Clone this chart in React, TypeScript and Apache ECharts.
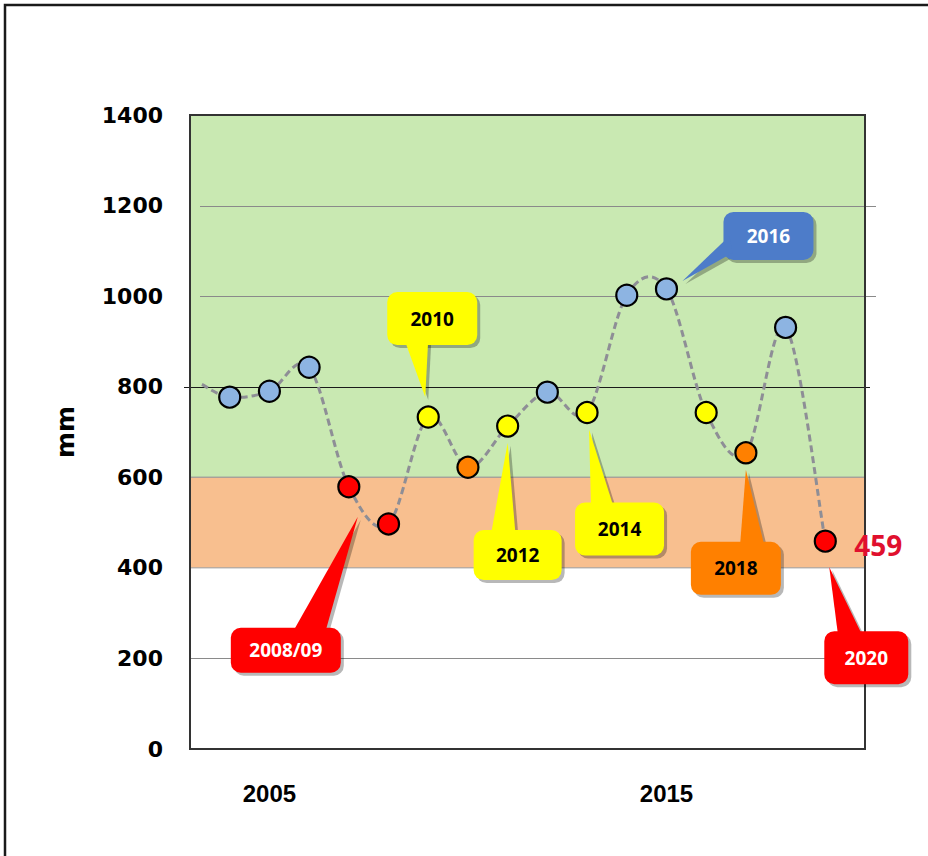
import React, { useEffect, useRef } from "react";
import * as echarts from "echarts";

// ---------- data ----------
const years = [2004, 2005, 2006, 2007, 2008, 2009, 2010, 2011, 2012, 2013, 2014, 2015, 2016, 2017, 2018, 2019];
const rainfall = [777, 790, 843, 579, 497, 733, 622, 713, 788, 743, 1002, 1016, 743, 654, 931, 459];
const pointClass = ["wet", "wet", "wet", "dry", "dry", "mid", "low", "mid", "wet", "mid", "wet", "wet", "mid", "low", "wet", "dry"];
const leadIn = [2003.3, 805];
const xLabelYears = [2005, 2015];
const bands = [
  [600, 1400],
  [400, 600],
];
const refLevels = [200, 800, 1000, 1200];
const callouts = [
  { index: 3, label: "2008/09", kind: "dry" },
  { index: 5, label: "2010", kind: "mid" },
  { index: 7, label: "2012", kind: "mid" },
  { index: 9, label: "2014", kind: "mid" },
  { index: 11, label: "2016", kind: "wet" },
  { index: 13, label: "2018", kind: "low" },
  { index: 15, label: "2020", kind: "dry" },
];
const lastValueLabel = "459";

// ---------- styles ----------
const X_MIN = 2003;
const X_MAX = 2020;
const markerColors: Record<string, string> = {
  wet: "#8DB4E2",
  mid: "#FFFF00",
  low: "#FF8000",
  dry: "#FF0000",
};
const calloutColors: Record<string, { fill: string; text: string }> = {
  wet: { fill: "#4D7CC9", text: "#FFFFFF" },
  mid: { fill: "#FFFF00", text: "#000000" },
  low: { fill: "#FF8000", text: "#000000" },
  dry: { fill: "#FF0000", text: "#FFFFFF" },
};
const bandColors = ["#C9E9B2", "#F8BF8F"];
// pixel offsets of each callout relative to its marker
const calloutLayout = [
  { box: [-118, 141, 110, 45], tip: [9, 30], base: [[-57, 147], [-24, 147]] },
  { box: [-41, -125, 90, 53], tip: [-3, -20], base: [[-24, -78], [0, -78]] },
  { box: [-34, 104, 88, 50], tip: [0, 17], base: [[-17, 110], [8, 110]] },
  { box: [-12, 90, 89, 53], tip: [2, 17], base: [[4, 96], [27, 96]] },
  { box: [57, -77, 90, 48], tip: [16, -8], base: [[63, -53], [66, -36]] },
  { box: [-55, 89, 90, 53], tip: [0, 17], base: [[-6, 95], [19, 95]] },
  { box: [-1, 90, 84, 53], tip: [4, 26], base: [[13, 96], [38, 96]] },
];
const refLineStyle: Record<number, { color: string; width: number; ext: [number, number] }> = {
  200: { color: "#8A8A8A", width: 1, ext: [0, 0] },
  800: { color: "#1A1A1A", width: 1.2, ext: [-6, 5] },
  1000: { color: "#8A8A8A", width: 1, ext: [10, 11] },
  1200: { color: "#8A8A8A", width: 1, ext: [10, 11] },
};

export default function App() {
  const ref = useRef<HTMLDivElement>(null);

  useEffect(() => {
    if (!ref.current) return;
    const chart = echarts.init(ref.current, null, { renderer: "svg" });

    const points = years.map((y, i) => [y, rainfall[i]]);
    const linePoints = [leadIn, ...points];

    const option: any = {
      animation: false,
      backgroundColor: "#FFFFFF",
      grid: { left: 190, top: 115, right: 63, bottom: 107, containLabel: false },
      graphic: [
        {
          type: "rect",
          shape: { x: 5, y: 5, width: 1000, height: 1000 },
          style: { fill: "none", stroke: "#1A1A1A", lineWidth: 2.5 },
          silent: true,
        },
      ],
      xAxis: {
        type: "value",
        min: X_MIN,
        max: X_MAX,
        interval: 1,
        axisLine: { show: false },
        axisTick: { show: false },
        splitLine: { show: false },
        axisLabel: {
          margin: 32,
          fontSize: 24,
          fontWeight: "bold",
          fontFamily: "'Liberation Sans Narrow', 'Liberation Sans', sans-serif",
          color: "#000",
          formatter: (v: number) => (xLabelYears.includes(v) ? String(v) : ""),
        },
      },
      yAxis: {
        type: "value",
        min: 0,
        max: 1400,
        interval: 200,
        name: "mm",
        nameLocation: "middle",
        nameGap: 112,
        nameRotate: 90,
        nameTextStyle: { fontSize: 25, fontWeight: "bold", fontFamily: "'DejaVu Sans', sans-serif", color: "#000" },
        axisLine: { show: false },
        axisTick: { show: false },
        splitLine: { show: false },
        axisLabel: {
          margin: 27,
          fontSize: 22,
          fontWeight: "bold",
          fontFamily: "'DejaVu Sans', sans-serif",
          color: "#000",
          formatter: (v: number) => String(v),
        },
      },
      series: [
        {
          type: "custom",
          name: "frame",
          z: 1,
          clip: false,
          silent: true,
          data: [[X_MIN, 0]],
          renderItem: (params: any, api: any) => {
            const cs = params.coordSys;
            const left = cs.x;
            const right = cs.x + cs.width;
            const children: any[] = [];
            bands.forEach((b, i) => {
              const top = api.coord([X_MIN, b[1]])[1];
              const bottom = api.coord([X_MIN, b[0]])[1];
              children.push({
                type: "rect",
                shape: { x: left, y: top, width: right - left, height: bottom - top },
                style: { fill: bandColors[i], stroke: "#9A9A9A", lineWidth: 1 },
              });
            });
            refLevels.forEach((lv) => {
              const y = Math.round(api.coord([X_MIN, lv])[1]) + 0.5;
              const s = refLineStyle[lv];
              children.push({
                type: "line",
                shape: { x1: left + s.ext[0], y1: y, x2: right + s.ext[1], y2: y },
                style: { stroke: s.color, lineWidth: s.width },
              });
            });
            children.push({
              type: "rect",
              shape: { x: left, y: cs.y, width: cs.width, height: cs.height },
              style: { fill: "none", stroke: "#333333", lineWidth: 2 },
            });
            return { type: "group", children };
          },
        },
        {
          type: "custom",
          name: "trend",
          z: 3,
          clip: false,
          silent: true,
          data: [[X_MIN, 0]],
          renderItem: (params: any, api: any) => {
            const px = linePoints.map((p) => api.coord(p));
            const n = px.length;
            const children: any[] = [];
            for (let i = 0; i < n - 1; i++) {
              const p0 = px[Math.max(i - 1, 0)];
              const p1 = px[i];
              const p2 = px[i + 1];
              const p3 = px[Math.min(i + 2, n - 1)];
              children.push({
                type: "bezierCurve",
                shape: {
                  x1: p1[0],
                  y1: p1[1],
                  x2: p2[0],
                  y2: p2[1],
                  cpx1: p1[0] + (p2[0] - p0[0]) / 6,
                  cpy1: p1[1] + (p2[1] - p0[1]) / 6,
                  cpx2: p2[0] - (p3[0] - p1[0]) / 6,
                  cpy2: p2[1] - (p3[1] - p1[1]) / 6,
                },
                style: { fill: "none", stroke: "#8E8E96", lineWidth: 3, lineDash: [7, 4] },
              });
            }
            return { type: "group", children };
          },
        },
        {
          type: "scatter",
          name: "rainfall",
          z: 4,
          symbolSize: 21,
          data: points.map((p, i) => ({
            value: p,
            itemStyle: {
              color: markerColors[pointClass[i]],
              borderColor: "#000",
              borderWidth: 2.2,
              opacity: 1,
            },
          })),
        },
        {
          type: "custom",
          name: "callouts",
          z: 5,
          clip: false,
          silent: true,
          data: callouts.map((c, i) => [years[c.index], rainfall[c.index], i]),
          renderItem: (params: any, api: any) => {
            const i = api.value(2);
            const c = callouts[i];
            const L = calloutLayout[i];
            const col = calloutColors[c.kind];
            const p = api.coord([api.value(0), api.value(1)]);
            const [bx, by, bw, bh] = L.box;
            const rectShape = { x: p[0] + bx, y: p[1] + by, width: bw, height: bh, r: 10 };
            const polyPts = [
              [p[0] + L.base[0][0], p[1] + L.base[0][1]],
              [p[0] + L.tip[0], p[1] + L.tip[1]],
              [p[0] + L.base[1][0], p[1] + L.base[1][1]],
            ];
            const children: any[] = [
              { type: "rect", shape: { ...rectShape, x: rectShape.x + 3, y: rectShape.y + 3 }, style: { fill: "rgba(0,0,0,0.28)" } },
              {
                type: "polygon",
                shape: { points: polyPts.map((q) => [q[0] + 3, q[1] + 3]) },
                style: { fill: "rgba(0,0,0,0.28)" },
              },
              { type: "rect", shape: rectShape, style: { fill: col.fill } },
              { type: "polygon", shape: { points: polyPts }, style: { fill: col.fill } },
              {
                type: "text",
                style: {
                  text: c.label,
                  x: p[0] + bx + bw / 2,
                  y: p[1] + by + bh / 2,
                  align: "center",
                  verticalAlign: "middle",
                  fill: col.text,
                  fontSize: 19,
                  fontWeight: "bold",
                  fontFamily: "'Open Sans', sans-serif",
                },
              },
            ];
            if (c.index === years.length - 1) {
              children.push({
                type: "text",
                style: {
                  text: lastValueLabel,
                  x: p[0] + 29,
                  y: p[1] + 4,
                  align: "left",
                  verticalAlign: "middle",
                  fill: "#E0102E",
                  fontSize: 28,
                  fontWeight: "bold",
                  fontFamily: "'Open Sans', sans-serif",
                },
              });
            }
            return { type: "group", children };
          },
        },
      ],
    };

    chart.setOption(option);
    return () => chart.dispose();
  }, []);

  return (
    <div
      ref={ref}
      style={{ position: "absolute", left: 0, top: 0, width: 928, height: 856 }}
    />
  );
}
